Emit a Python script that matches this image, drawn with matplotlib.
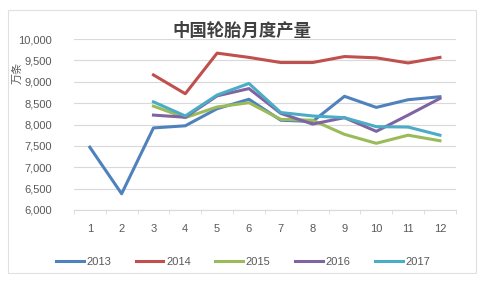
import numpy as np
import matplotlib.pyplot as plt
from matplotlib.patches import Rectangle

plt.rcParams['font.family'] = ['Liberation Sans', 'Noto Sans CJK SC', 'DejaVu Sans']

months = list(range(1, 13))
month_labels = [str(m) for m in months]

# monthly output, 10k tyres; None = no data
y2013 = [7470, 6380, 7920, 7970, 8370, 8590, 8100, 8070, 8660, 8400, 8580, 8650]
y2014 = [None, None, 9160, 8720, 9670, 9570, 9450, 9450, 9590, 9560, 9440, 9570]
y2015 = [None, None, 8430, 8160, 8410, 8510, 8120, 8100, 7770, 7560, 7750, 7620]
y2016 = [None, None, 8220, 8170, 8670, 8840, 8260, 8010, 8160, 7840, 8220, 8610]
y2017 = [None, None, 8530, 8200, 8690, 8960, 8280, 8200, 8160, 7950, 7940, 7750]

series = [('2013', y2013, '#4F81BD'), ('2014', y2014, '#C0504D'),
          ('2015', y2015, '#9BBB59'), ('2016', y2016, '#8064A2'),
          ('2017', y2017, '#4BACC6')]

fig = plt.figure(figsize=(4.86, 2.84), dpi=100)
ax = fig.add_axes([0.152, 0.2606, 0.786, 0.602])

x = np.arange(len(months))
for name, vals, col in series:
    v = np.array([np.nan if a is None else a for a in vals], dtype=float)
    ax.plot(x, v, color=col, lw=2.2, label=name, solid_joinstyle='round')

ax.set_xlim(-0.5, len(months) - 0.5)
ax.set_ylim(6000, 10000)
ax.set_yticks(np.arange(6000, 10001, 500))
ax.set_yticklabels([f'{t:,}' for t in range(6000, 10001, 500)])
ax.set_xticks(x)
ax.set_xticklabels(month_labels)
ax.set_xticks(np.arange(-0.5, len(months), 1), minor=True)
ax.tick_params(axis='x', which='major', length=0, pad=10, labelsize=8, colors='#595959')
ax.tick_params(axis='x', which='minor', length=3, color='#D9D9D9')
ax.tick_params(axis='y', length=0, pad=16, labelsize=8, colors='#595959')
ax.grid(axis='y', color='#D9D9D9', lw=0.8)
ax.set_axisbelow(True)
for s in ['top', 'right', 'left']:
    ax.spines[s].set_visible(False)
ax.spines['bottom'].set_color('#D9D9D9')

fig.text(0.498, 0.89, '中国轮胎月度产量', ha='center', va='center', fontsize=12.5,
         fontweight='bold', color='#404040', family=['Noto Sans CJK SC'])
fig.text(0.037, 0.745, '万条', rotation=90, ha='center', va='center', fontsize=8,
         color='#595959', family=['Noto Sans CJK SC'])

fig.legend(loc='center', bbox_to_anchor=(0.5, 0.077), ncol=5, frameon=False,
           fontsize=8, handlelength=2.5, handletextpad=0.25, columnspacing=2.2,
           labelcolor='#595959')

fig.patches.append(Rectangle((8 / 486, 1 - 273 / 284), 468 / 486, 263 / 284,
                             transform=fig.transFigure, fill=False,
                             edgecolor='#E0E0E0', lw=0.8))

fig.savefig('out.png', dpi=100)
